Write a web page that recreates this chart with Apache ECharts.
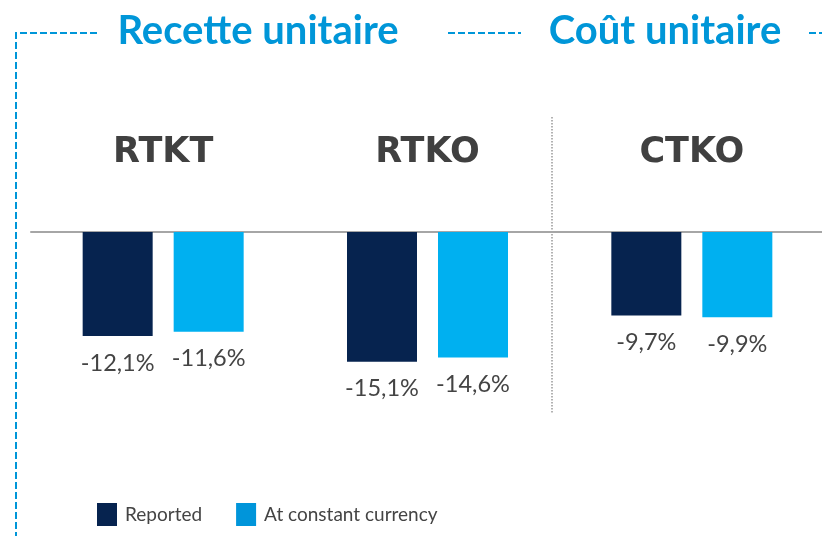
<!DOCTYPE html>
<html><head><meta charset="utf-8">
<script src="https://cdn.jsdelivr.net/npm/echarts@6/dist/echarts.min.js"></script>
<style>html,body{margin:0;padding:0;background:#fff}#c{width:822px;height:536px}</style>
</head><body><div id="c"></div>
<script>
const categories = ['RTKT', 'RTKO', 'CTKO'];
const seriesNames = ['Reported', 'At constant currency'];
const reported = [-12.1, -15.1, -9.7];
const constantCurrency = [-11.6, -14.6, -9.9];
const sectionTitles = ['Recette unitaire', 'Coût unitaire'];

const NAVY = '#06234f', LIGHT = '#00b0f0', LEGEND_LIGHT = '#0095da', HEAD = '#0096d8';
const txtFont = "Lato, 'Noto Sans', sans-serif";
const fmt = p => p.value.toFixed(1).replace('.', ',') + '%';
const dash = { stroke: HEAD, lineWidth: 2, lineDash: [7, 3] };

const chart = echarts.init(document.getElementById('c'), null, { renderer: 'canvas' });
chart.setOption({
  animation: false,
  backgroundColor: '#fff',
  grid: { left: 31, top: 232, width: 793, height: 172, outerBoundsMode: 'none', containLabel: false },
  xAxis: {
    type: 'category', data: categories, position: 'top',
    axisLine: { onZero: false, lineStyle: { color: '#a6a6a6', width: 2 } },
    axisTick: { show: false },
    axisLabel: { fontFamily: 'DejaVu Sans', fontWeight: 'bold', fontSize: 35, color: '#404040', margin: 62 }
  },
  yAxis: { type: 'value', min: -20, max: 0, show: false, splitLine: { show: false } },
  legend: {
    left: 92, top: 498, padding: 5, itemWidth: 20, itemHeight: 23, itemGap: 34,
    icon: 'rect',
    data: [
      { name: seriesNames[0], itemStyle: { color: NAVY } },
      { name: seriesNames[1], itemStyle: { color: LEGEND_LIGHT } }
    ],
    textStyle: { fontFamily: txtFont, fontSize: 19, color: '#444', padding: [0, 0, 0, 3] }
  },
  series: [
    {
      name: seriesNames[0], type: 'bar', data: reported, barWidth: 70, barGap: '30%',
      itemStyle: { color: NAVY },
      label: { show: true, position: 'bottom', distance: 15, formatter: fmt, fontFamily: txtFont, fontSize: 23.5, color: '#444' }
    },
    {
      name: seriesNames[1], type: 'bar', data: constantCurrency, barWidth: 70, barGap: '30%',
      itemStyle: { color: LIGHT },
      label: { show: true, position: 'bottom', distance: 15, formatter: fmt, fontFamily: txtFont, fontSize: 23.5, color: '#444' }
    }
  ],
  graphic: [
    { type: 'polyline', shape: { points: [[97, 33], [16, 33], [16, 536]] }, style: dash, silent: true },
    { type: 'line', shape: { x1: 448, y1: 33, x2: 521, y2: 33 }, style: dash, silent: true },
    { type: 'line', shape: { x1: 809, y1: 33, x2: 822, y2: 33 }, style: dash, silent: true },
    { type: 'line', shape: { x1: 552, y1: 117, x2: 552, y2: 414 }, style: { stroke: '#999', lineWidth: 1.5, lineDash: [1.5, 1.5] }, silent: true },
    { type: 'text', x: 258, y: 31, style: { text: sectionTitles[0], fill: HEAD, font: "bold 40px Lato", textAlign: 'center', textVerticalAlign: 'middle' } },
    { type: 'text', x: 665, y: 31, style: { text: sectionTitles[1], fill: HEAD, font: "bold 40px Lato", textAlign: 'center', textVerticalAlign: 'middle' } }
  ]
});
</script></body></html>
